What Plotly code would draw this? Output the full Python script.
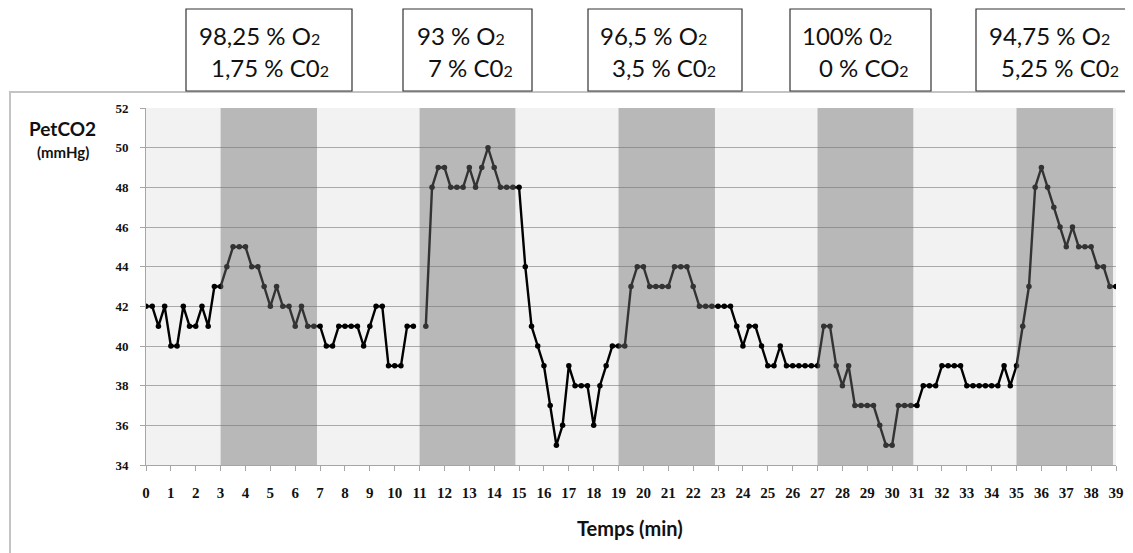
import plotly.graph_objects as go

# ---------------- data ----------------
time_min = [i * 0.25 for i in range(157)]  # sampling grid, 0 .. 39 min every 15 s
petco2 = [
    42, 42, 41, 42, 40, 40, 42, 41, 41, 42, 41, 43,   # 0 - 2.75
    43, 44, 45, 45, 45, 44, 44, 43, 42, 43, 42, 42,   # 3 - 5.75
    41, 42, 41, 41, 41, 40, 40, 41, 41, 41, 41, 40,   # 6 - 8.75
    41, 42, 42, 39, 39, 39, 41, 41,                   # 9 - 10.75
    None,                                             # 11
    41, 48, 49,                                       # 11.25 - 11.75
    49, 48, 48, 48, 49, 48, 49, 50, 49, 48, 48, 48,   # 12 - 14.75
    48, 44, 41, 40, 39, 37, 35, 36, 39, 38, 38, 38,   # 15 - 17.75
    36, 38, 39, 40, 40, 40, 43, 44, 44, 43, 43, 43,   # 18 - 20.75
    43, 44, 44, 44, 43, 42, 42, 42, 42, 42, 42, 41,   # 21 - 23.75
    40, 41, 41, 40, 39, 39, 40, 39, 39, 39, 39, 39,   # 24 - 26.75
    39, 41, 41, 39, 38, 39, 37, 37, 37, 37, 36, 35,   # 27 - 29.75
    35, 37, 37, 37, 37, 38, 38, 38, 39, 39, 39, 39,   # 30 - 32.75
    38, 38, 38, 38, 38, 38, 39, 38, 39, 41, 43, 48,   # 33 - 35.75
    49, 48, 47, 46, 45, 46, 45, 45, 45, 44, 44, 43, 43,  # 36 - 39
]
phase_start = [3, 11, 19, 27, 35]
phase_end = [6.875, 14.85, 22.875, 30.85, 38.88]
gas_line1 = ["98,25 % O2", "93 % O2", "96,5 % O2", "100% 02", "94,75 % O2"]
gas_line2 = ["1,75 % C02", "7 % C02", "3,5 % C02", "0 % CO2", "5,25 % C02"]
x_ticks = list(range(0, 40))
y_ticks = list(range(34, 53, 2))

# ---------------- layout geometry ----------------
# the page body adds an 8px offset; figure coordinates = page coordinates - 8
OFF = 8
W, H = 1125, 545
ML, MT = 146 - OFF, 108 - OFF
MR = W - (1116 - OFF)
MB = H - (465 - OFF)
PW = W - ML - MR
PH = H - MT - MB


def px(xp):
    return (xp - OFF - ML) / PW


def py(yp):
    return (H - MB - (yp - OFF)) / PH


def sub2(s, fs):
    # render the trailing '2' smaller, as in the reference boxes
    return s[:-1] + "<span style='font-size:%dpx'>2</span>" % fs


fig = go.Figure()
fig.add_trace(go.Scatter(
    x=time_min, y=petco2, mode="lines+markers",
    line=dict(color="black", width=2.4),
    marker=dict(color="black", size=5.5),
    connectgaps=False, showlegend=False, hoverinfo="x+y",
))

shapes = []
for a, b in zip(phase_start, phase_end):
    shapes.append(dict(type="rect", xref="x", yref="paper", x0=a, x1=b, y0=0, y1=1,
                       fillcolor="rgba(112,112,112,0.45)", line=dict(width=0), layer="above"))

# outer chart frame
shapes.append(dict(type="rect", xref="paper", yref="paper",
                   x0=px(10), x1=px(1145), y0=py(600), y1=py(92),
                   line=dict(color="#c4c4c4", width=2), fillcolor="rgba(0,0,0,0)", layer="below"))

# gas composition boxes
box_left = [186, 403, 588, 790, 976]
box_right = [352, 532, 742, 931, 1131]
text1_left = [197, 415, 598, 800, 987]
text2_left = [209, 426, 610, 817, 999]
annotations = []
for i in range(5):
    shapes.append(dict(type="rect", xref="paper", yref="paper",
                       x0=px(box_left[i]), x1=px(box_right[i]), y0=py(91), y1=py(9),
                       line=dict(color="#333333", width=1.2), fillcolor="white"))
    annotations.append(dict(xref="paper", yref="paper", x=px(text1_left[i]), y=py(35),
                            xanchor="left", yanchor="middle", showarrow=False,
                            text=sub2(gas_line1[i], 16),
                            font=dict(family="Lato", size=24, color="#111111")))
    annotations.append(dict(xref="paper", yref="paper", x=px(text2_left[i]), y=py(68),
                            xanchor="left", yanchor="middle", showarrow=False,
                            text=sub2(gas_line2[i], 16),
                            font=dict(family="Lato", size=24, color="#111111")))

annotations.append(dict(xref="paper", yref="paper", x=px(62), y=py(128),
                        xanchor="center", yanchor="middle", showarrow=False,
                        text="<b>PetCO2</b>", font=dict(family="Lato", size=19, color="#111111")))
annotations.append(dict(xref="paper", yref="paper", x=px(63), y=py(152),
                        xanchor="center", yanchor="middle", showarrow=False,
                        text="<b>(mmHg)</b>", font=dict(family="Lato", size=15, color="#111111")))
annotations.append(dict(xref="paper", yref="paper", x=px(630), y=py(528),
                        xanchor="center", yanchor="middle", showarrow=False,
                        text="<b>Temps (min)</b>", font=dict(family="Lato", size=20, color="#111111")))

fig.update_layout(
    width=W, height=H,
    margin=dict(l=ML, r=MR, t=MT, b=MB, autoexpand=False),
    paper_bgcolor="white", plot_bgcolor="#f2f2f2",
    shapes=shapes, annotations=annotations,
    showlegend=False,
)
fig.update_xaxes(
    range=[0, 39], tickmode="array", tickvals=x_ticks, ticktext=[str(v) for v in x_ticks],
    showgrid=False, zeroline=False,
    showline=True, linecolor="#a6a6a6", linewidth=1,
    ticks="outside", ticklen=5, tickcolor="#a6a6a6",
    tickfont=dict(family="Liberation Serif", size=15, color="#111111", weight="bold"),
    ticklabelstandoff=9,
)
fig.update_yaxes(
    range=[34, 52], tickmode="array", tickvals=y_ticks, ticktext=[str(v) for v in y_ticks],
    showgrid=True, gridcolor="#a9a9a9", gridwidth=1, zeroline=False,
    showline=True, linecolor="#a6a6a6", linewidth=1,
    ticks="outside", ticklen=5, tickcolor="#a6a6a6",
    tickfont=dict(family="Liberation Serif", size=13, color="#111111", weight="bold"),
    ticklabelstandoff=9,
)

fig.write_html("out.html")
